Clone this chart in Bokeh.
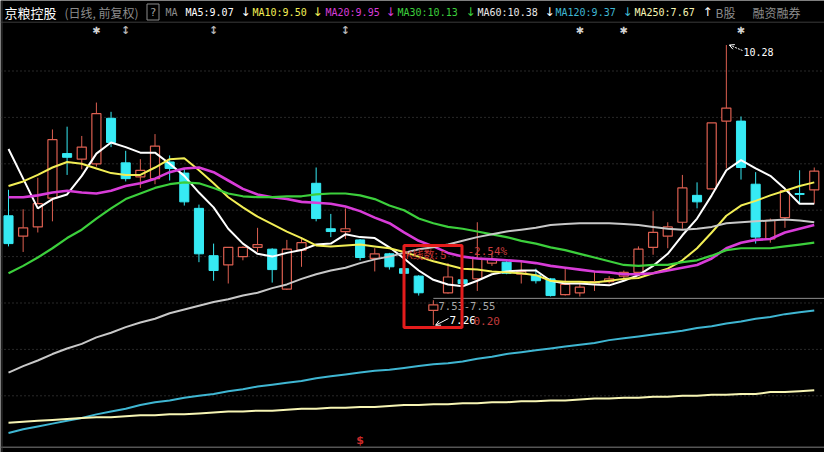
from bokeh.plotting import figure
from bokeh.models import ColumnDataSource, Range1d, Span, Label, BoxAnnotation, Arrow, OpenHead
from bokeh.embed import file_html
from bokeh.resources import INLINE
from bokeh.core.properties import value

# ---- daily bars (forward-adjusted) ----
opens = [8.44, 8.22, 8.32, 8.63, 9.11, 9.05, 9.00, 9.49, 9.01, 8.86,
         8.84, 9.02, 8.90, 8.52, 8.01, 7.91, 8.00, 8.10, 8.08, 7.65,
         8.07, 8.79, 8.30, 8.27, 8.18, 7.98, 8.03, 7.87, 7.79, 7.42,
         7.61, 7.75, 7.76, 7.93, 7.94, 7.81, 7.80, 7.76, 7.59, 7.61,
         7.70, 7.73, 7.79, 7.83, 8.10, 8.22, 8.37, 8.66, 8.73, 9.46,
         9.46, 8.78, 8.19, 8.42, 8.68, 8.72]
highs = [8.72, 8.51, 8.85, 9.37, 9.40, 9.30, 9.66, 9.56, 9.14, 9.05,
         9.32, 9.09, 8.95, 8.56, 8.14, 8.10, 8.11, 8.31, 8.09, 8.18,
         8.21, 8.96, 8.46, 8.52, 8.19, 8.09, 8.04, 7.88, 7.80, 7.53,
         7.93, 7.76, 8.37, 8.04, 7.95, 7.96, 7.87, 7.77, 7.87, 7.72,
         7.84, 7.79, 7.85, 8.11, 8.49, 8.37, 8.88, 8.80, 9.44, 10.28,
         9.51, 8.91, 8.41, 8.73, 8.93, 8.96]
lows = [8.11, 8.05, 8.26, 8.38, 8.88, 8.94, 8.97, 9.18, 8.81, 8.74,
        8.78, 8.82, 8.55, 7.94, 7.74, 7.71, 7.96, 8.05, 7.72, 7.64,
        7.89, 8.38, 8.21, 8.19, 7.96, 7.84, 7.86, 7.81, 7.58, 7.26,
        7.60, 7.70, 7.63, 7.90, 7.81, 7.71, 7.71, 7.57, 7.58, 7.57,
        7.63, 7.71, 7.74, 7.79, 8.02, 8.09, 8.30, 8.52, 8.73, 8.95,
        8.83, 8.14, 8.15, 8.31, 8.57, 8.57]
closes = [8.14, 8.31, 8.57, 9.26, 9.07, 9.18, 9.54, 9.23, 8.84, 8.93,
          9.19, 8.95, 8.59, 8.03, 7.85, 8.10, 8.10, 8.13, 7.86, 8.08,
          8.15, 8.41, 8.27, 8.30, 7.99, 8.03, 7.89, 7.82, 7.61, 7.48,
          7.78, 7.71, 7.98, 7.97, 7.82, 7.84, 7.74, 7.58, 7.70, 7.67,
          7.73, 7.76, 7.83, 8.08, 8.26, 8.32, 8.74, 8.59, 9.44, 9.60,
          8.96, 8.21, 8.39, 8.71, 8.67, 8.92]

# ---- moving averages ----
ma5 = [9.16, 8.84, 8.52, 8.62, 8.67, 8.87, 9.11, 9.23, 9.18, 9.12,
       9.12, 9.00, 8.87, 8.69, 8.53, 8.30, 8.14, 8.03, 8.00, 8.04,
       8.07, 8.13, 8.14, 8.24, 8.21, 8.20, 8.10, 7.98, 7.85, 7.75,
       7.70, 7.68, 7.74, 7.81, 7.84, 7.85, 7.85, 7.74, 7.71, 7.71,
       7.70, 7.69, 7.74, 7.80, 7.90, 8.03, 8.23, 8.41, 8.66, 8.93,
       9.04, 8.95, 8.87, 8.73, 8.57, 8.57]
ma10 = [8.76, 8.81, 8.88, 8.96, 9.02, 9.00, 8.95, 8.90, 8.88, 8.88,
        8.96, 9.05, 9.06, 8.93, 8.79, 8.64, 8.53, 8.43, 8.35, 8.27,
        8.20, 8.12, 8.11, 8.12, 8.13, 8.11, 8.09, 8.05, 8.00, 7.95,
        7.91, 7.87, 7.86, 7.84, 7.83, 7.82, 7.80, 7.74, 7.73, 7.73,
        7.72, 7.74, 7.76, 7.77, 7.82, 7.87, 7.96, 8.09, 8.26, 8.44,
        8.55, 8.60, 8.66, 8.71, 8.76, 8.80]
ma20 = [8.64, 8.64, 8.66, 8.69, 8.71, 8.69, 8.68, 8.71, 8.76, 8.79,
        8.84, 8.91, 8.95, 8.96, 8.91, 8.82, 8.73, 8.67, 8.64, 8.62,
        8.59, 8.58, 8.57, 8.54, 8.49, 8.42, 8.36, 8.26, 8.17, 8.11,
        8.04, 8.00, 7.98, 7.97, 7.96, 7.95, 7.93, 7.90, 7.88, 7.86,
        7.84, 7.83, 7.81, 7.81, 7.82, 7.85, 7.88, 7.91, 7.98, 8.09,
        8.15, 8.18, 8.19, 8.26, 8.30, 8.34]
ma30 = [7.82, 7.90, 7.99, 8.09, 8.20, 8.29, 8.41, 8.52, 8.62, 8.68,
        8.74, 8.78, 8.80, 8.79, 8.74, 8.68, 8.65, 8.64, 8.64, 8.65,
        8.65, 8.67, 8.68, 8.68, 8.66, 8.62, 8.55, 8.50, 8.41, 8.36,
        8.32, 8.30, 8.27, 8.24, 8.21, 8.17, 8.14, 8.10, 8.07, 8.03,
        7.99, 7.95, 7.91, 7.90, 7.91, 7.91, 7.94, 7.96, 8.01, 8.07,
        8.09, 8.09, 8.09, 8.11, 8.13, 8.15]
ma60 = [6.75, 6.82, 6.88, 6.95, 7.01, 7.06, 7.13, 7.18, 7.24, 7.29,
        7.33, 7.39, 7.43, 7.47, 7.51, 7.54, 7.58, 7.61, 7.66, 7.70,
        7.76, 7.81, 7.85, 7.88, 7.93, 7.97, 8.00, 8.04, 8.08, 8.10,
        8.13, 8.17, 8.21, 8.24, 8.27, 8.29, 8.31, 8.34, 8.35, 8.36,
        8.36, 8.36, 8.35, 8.34, 8.32, 8.30, 8.29, 8.30, 8.32, 8.36,
        8.37, 8.38, 8.39, 8.40, 8.39, 8.37]
ma120 = [6.10, 6.14, 6.17, 6.20, 6.23, 6.26, 6.30, 6.33, 6.36, 6.40,
         6.43, 6.45, 6.48, 6.50, 6.52, 6.55, 6.57, 6.60, 6.62, 6.64,
         6.66, 6.69, 6.71, 6.73, 6.75, 6.77, 6.78, 6.80, 6.82, 6.84,
         6.85, 6.87, 6.90, 6.92, 6.95, 6.97, 6.99, 7.01, 7.03, 7.05,
         7.07, 7.10, 7.12, 7.14, 7.16, 7.18, 7.20, 7.23, 7.25, 7.28,
         7.30, 7.33, 7.35, 7.38, 7.40, 7.42]
ma250 = [6.21, 6.22, 6.23, 6.24, 6.25, 6.26, 6.27, 6.27, 6.28, 6.29,
         6.29, 6.30, 6.30, 6.31, 6.32, 6.33, 6.33, 6.34, 6.34, 6.35,
         6.36, 6.36, 6.37, 6.37, 6.38, 6.38, 6.39, 6.40, 6.40, 6.41,
         6.41, 6.42, 6.42, 6.43, 6.43, 6.44, 6.44, 6.45, 6.45, 6.46,
         6.47, 6.47, 6.48, 6.48, 6.49, 6.49, 6.50, 6.50, 6.51, 6.51,
         6.52, 6.52, 6.54, 6.54, 6.55, 6.56]

# header readout
ma_names = ["MA5", "MA10", "MA20", "MA30", "MA60", "MA120", "MA250"]
ma_readout = ["9.07", "9.50", "9.95", "10.13", "10.38", "9.37", "7.67"]
ma_trend = ["↓", "↓", "↓", "↓", "↓", "↓", "↑"]

# event markers along the top row / signal marks along the bottom
info_star_bars = [6, 39, 42, 50]
info_arrow_bars = [8, 14, 23]
signal_bars = [24]

# interval statistics for the boxed selection
sel_count = 5
sel_change = "-2.54%"
gap_low, gap_high = 7.53, 7.55
gap_from_bar = 29
low_mark, low_bar = 7.26, 29
high_mark, high_bar = 10.28, 49
grid_levels = [6.5, 7.0, 7.5, 8.0, 8.5, 9.0, 9.5, 10.0]

# ---- canvas geometry ----
W, H = 824, 452
X0_PX, STEP_PX = 8.0, 14.65
Y_REF_PX, Y_REF_PRICE, PX_PER_UNIT = 302.5, 7.5, 92.8


def px_x(x):
    return (x - X0_PX) / STEP_PX


def px_y(y):
    return Y_REF_PRICE + (Y_REF_PX - y) / PX_PER_UNIT


UP = "#dc5f50"
DOWN = "#36eaf4"
MONO = "DejaVu Sans Mono"
CJK = "Noto Sans CJK SC"

p = figure(width=W, height=H,
           x_range=Range1d(px_x(0), px_x(W)),
           y_range=Range1d(px_y(H), px_y(0)),
           x_axis_location=None, y_axis_location=None,
           toolbar_location=None, output_backend="svg",
           min_border=0, min_border_left=0, min_border_right=0,
           min_border_top=0, min_border_bottom=0,
           background_fill_color="black", border_fill_color="black",
           outline_line_color=None)
p.xgrid.grid_line_color = None
p.ygrid.grid_line_color = None
p.grid.visible = False

# dotted price grid, header rule and frame lines
for lv in grid_levels:
    p.add_layout(Span(location=lv, dimension="width", line_color="#505050",
                      line_dash="1 3", line_width=1, level="underlay"))
p.add_layout(Span(location=px_y(21.7), dimension="width", line_color="#3a3a3a",
                  line_width=1, level="underlay"))
p.add_layout(Span(location=px_y(446.8), dimension="width", line_color="#555555",
                  line_width=1.5, level="underlay"))
p.add_layout(Span(location=px_x(1.5), dimension="height", line_color="#3a3a3a",
                  line_width=1, level="underlay"))

# gap line
p.segment(x0=[gap_from_bar], y0=[gap_high], x1=[px_x(W)], y1=[gap_high],
          line_color="#8e8e8e", line_width=1)

# candles
idx = list(range(len(closes)))
is_up = [c >= o for o, c in zip(opens, closes)]


def subset(flag):
    keep = [i for i in idx if is_up[i] == flag]
    return ColumnDataSource(dict(
        x=keep,
        o=[opens[i] for i in keep], h=[highs[i] for i in keep],
        l=[lows[i] for i in keep], c=[closes[i] for i in keep],
        top=[max(opens[i], closes[i]) for i in keep],
        bot=[min(opens[i], closes[i]) for i in keep]))


up_src = subset(True)
dn_src = subset(False)

p.segment(x0="x", y0="h", x1="x", y1="l", source=up_src, line_color=UP, line_width=1)
p.vbar(x="x", top="top", bottom="bot", width=0.62, source=up_src,
       fill_color="black", line_color=UP, line_width=1.2)
p.segment(x0="x", y0="h", x1="x", y1="l", source=dn_src, line_color=DOWN, line_width=1)
p.vbar(x="x", top="top", bottom="bot", width=0.62, source=dn_src,
       fill_color=DOWN, line_color=DOWN, line_width=1)

# moving averages
ma_series = [ma5, ma10, ma20, ma30, ma60, ma120, ma250]
ma_colors = ["#ffffff", "#f2ee55", "#d83cd8", "#3ccf3c", "#c8c8c8", "#3fb6d2", "#f7f5b4"]
ma_widths = [2, 2, 2.6, 2.2, 2, 2, 2]
for ys, col, lw in zip(ma_series, ma_colors, ma_widths):
    p.line(idx, ys, line_color=col, line_width=lw)


def label(text, x, y, color, size="10px", font=MONO, align="left", style="normal"):
    p.add_layout(Label(x=px_x(x), y=px_y(y), text=text, text_color=color,
                       text_font_size=size, text_font=font, text_baseline="middle",
                       text_align=align, text_font_style=style))


# header
label("京粮控股", 4, 11.5, "#ffffff", size="13px", font=CJK)
label("(日线, 前复权)", 64, 11.5, "#8c8c8c", size="12px", font=CJK)
p.add_layout(BoxAnnotation(left=px_x(146.5), right=px_x(158.5), top=px_y(3.5), bottom=px_y(19.5),
                           fill_alpha=0, line_color="#8c8c8c", line_alpha=1, line_width=1))
label("?", 152.5, 11.5, "#a0a0a0", size="11px", align="center")
label("MA", 165, 11.5, "#8c8c8c")
header_x = [185, 252, 325, 397, 477, 555, 634]
arrow_x = [240, 312, 385, 465, 544, 622, 702]
head_colors = ["#ffffff", "#f2ee55", "#d83cd8", "#3ccf3c", "#e8e8e8", "#3fb6d2", "#f7f5b4"]
arrow_colors = ["#ffffff", "#f2ee55", "#d83cd8", "#3ccf3c", "#ffffff", "#3fb6d2", "#ffffff"]
for name, val, tr, hx, ax, hc, ac in zip(ma_names, ma_readout, ma_trend,
                                         header_x, arrow_x, head_colors, arrow_colors):
    label(f"{name}:{val}", hx, 11.5, hc)
    label(tr, ax, 11.5, ac, size="12px", font="DejaVu Sans")
label("B股", 715, 11.5, "#8c8c8c", size="12px", font=CJK)
label("融资融券", 752, 11.5, "#8c8c8c", size="12px", font=CJK)

# info markers
row_y = px_y(30)
p.text(x=info_star_bars, y=[row_y] * len(info_star_bars), text=["✱"] * len(info_star_bars),
       text_color="#d0d0d0", text_font=value("DejaVu Sans"), text_font_size="10px",
       text_align="center", text_baseline="middle")
p.text(x=info_arrow_bars, y=[row_y] * len(info_arrow_bars), text=["↕"] * len(info_arrow_bars),
       text_color="#b4b4b4", text_font=value("DejaVu Sans"), text_font_size="11px",
       text_font_style="bold", text_align="center", text_baseline="middle")
p.text(x=signal_bars, y=[px_y(440)] * len(signal_bars), text=["$"] * len(signal_bars),
       text_color="#cc2a2a", text_font=value("DejaVu Sans"), text_font_size="11px",
       text_font_style="bold", text_align="center", text_baseline="middle")

# extreme marks
p.add_layout(Arrow(end=OpenHead(size=5, line_color="#ffffff", line_width=1),
                   x_start=px_x(742), y_start=px_y(50), x_end=high_bar + 0.2, y_end=high_mark,
                   line_color="#ffffff", line_width=1, line_dash="2 1"))
label(f"{high_mark:.2f}", 743, 51, "#ffffff")
p.add_layout(Arrow(end=OpenHead(size=5, line_color="#ffffff", line_width=1),
                   x_start=px_x(448), y_start=px_y(318), x_end=low_bar + 0.15, y_end=low_mark,
                   line_color="#ffffff", line_width=1))
label(f"{low_mark:.2f}", 449, 319, "#ffffff", size="11px")
label("0.20", 473, 320, "#c03c3c", size="11px")
label(f"{gap_low:.2f}-{gap_high:.2f}", 438, 305.5, "#a8a8a8", size="10.5px")

# selection box with interval statistics
p.add_layout(BoxAnnotation(left=px_x(403.5), right=px_x(461.5), top=px_y(245), bottom=px_y(327),
                           fill_alpha=0, line_color="#e41c1c", line_alpha=1, line_width=3))
label(f"K线数: {sel_count}", 405, 253, "#c83232", size="11px", font=CJK)
label(sel_change, 467, 251, "#c83c3c", size="11px")

open("out.html", "w").write(file_html(p, INLINE))
